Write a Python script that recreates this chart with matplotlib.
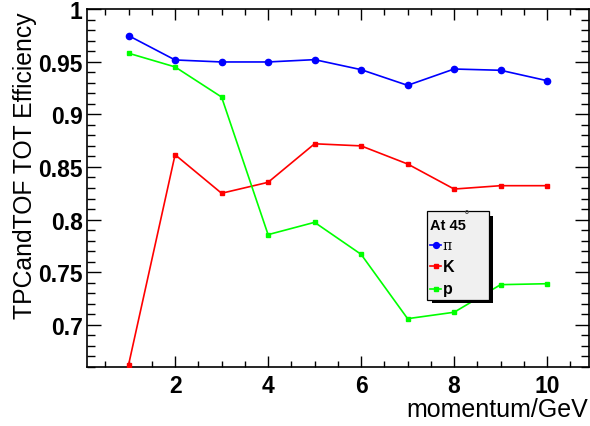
import matplotlib
matplotlib.use("Agg")
import matplotlib.pyplot as plt
from matplotlib.patches import Rectangle
from matplotlib.lines import Line2D
from matplotlib.ticker import MultipleLocator

# Efficiency vs momentum for pions, kaons and protons
momentum = [1, 2, 3, 4, 5, 6, 7, 8, 9, 10]
eff_pi = [0.9747, 0.9516, 0.9497, 0.9497, 0.9519, 0.9424, 0.9275, 0.9430, 0.9418, 0.9319]
eff_k = [0.6620, 0.8616, 0.8250, 0.8354, 0.8720, 0.8700, 0.8528, 0.8290, 0.8322, 0.8322]
eff_p = [0.9580, 0.9450, 0.9164, 0.7857, 0.7974, 0.7670, 0.7059, 0.7120, 0.7382, 0.7391]

series_labels = ["\u03c0", "K", "p"]
legend_title = "At 45"

W, H = 590, 427
fig = plt.figure(figsize=(W / 100, H / 100), dpi=100)
ax = fig.add_axes([86.7 / W, 1 - 368 / H, (589 - 86.7) / W, (368 - 10) / H])

font = "Liberation Sans"
lw = 1.2
ax.plot(momentum, eff_pi, color=(0, 0, 1), lw=lw, marker="o", ms=4.5, zorder=3)
ax.plot(momentum, eff_k, color=(1, 0, 0), lw=lw, marker="s", ms=2.6, zorder=3)
ax.plot(momentum, eff_p, color=(0, 1, 0), lw=lw, marker="s", ms=2.6, zorder=3)

ax.set_xlim(0.1, 10.9)
ax.set_ylim(0.66, 1.0)
ax.xaxis.set_major_locator(MultipleLocator(2))
ax.xaxis.set_minor_locator(MultipleLocator(0.5))
ax.yaxis.set_major_locator(MultipleLocator(0.05))
ax.yaxis.set_minor_locator(MultipleLocator(0.01))
ax.tick_params(which="both", direction="in", top=True, right=True, width=1.0)
ax.tick_params(axis="x", which="major", length=8, pad=5)
ax.tick_params(axis="x", which="minor", length=4.5)
ax.tick_params(axis="y", which="major", length=10, pad=3)
ax.tick_params(axis="y", which="minor", length=6)
for s in ax.spines.values():
    s.set_linewidth(1.2)

ax.set_xticks([2, 4, 6, 8, 10])
ax.set_xticklabels(["2", "4", "6", "8", "10"], fontfamily=font, fontweight="bold", fontsize=16.5)
yt = [0.7, 0.75, 0.8, 0.85, 0.9, 0.95, 1.0]
ax.set_yticks(yt)
ax.set_yticklabels(["0.7", "0.75", "0.8", "0.85", "0.9", "0.95", "1"],
                   fontfamily=font, fontweight="bold", fontsize=16.5)

fig.text(588 / W, 1 - 410 / H, "momentum/GeV", ha="right", va="center",
         fontfamily=font, fontsize=18)
fig.text(25 / W, 1 - 12 / H, "TPCandTOF TOT Efficiency", ha="center", va="top",
         rotation=90, fontfamily=font, fontsize=17.8)

# Legend box with a drop shadow, in pixel coordinates
def px_rect(x0, y0, x1, y1, **kw):
    return Rectangle((x0 / W, 1 - y1 / H), (x1 - x0) / W, (y1 - y0) / H,
                     transform=fig.transFigure, **kw)

fig.add_artist(px_rect(432, 217, 492.5, 303.5, facecolor="black", edgecolor="none", zorder=5))
fig.add_artist(px_rect(427, 212, 489, 300.5, facecolor="#f0f0f0", edgecolor="black",
                       lw=0.9, zorder=6))
fig.text(429.5 / W, 1 - 226 / H, legend_title, ha="left", va="center", fontfamily=font,
         fontweight="bold", fontsize=10.5, zorder=7)
fig.text(464 / W, 1 - 216 / H, "\u00b0", ha="left", va="center", fontfamily="DejaVu Sans",
         fontsize=8.5, color="#444444", zorder=7)

entry_y = [245.5, 267, 290]
entry_colors = [(0, 0, 1), (1, 0, 0), (0, 1, 0)]
entry_markers = ["o", "s", "s"]
entry_ms = [4.2, 2.6, 2.6]
for lab, yy, c, m, ms in zip(series_labels, entry_y, entry_colors, entry_markers, entry_ms):
    fig.add_artist(Line2D([430 / W, 441 / W], [1 - yy / H] * 2, color=c, lw=lw,
                          transform=fig.transFigure, zorder=7))
    fig.add_artist(Line2D([435.5 / W], [1 - yy / H], color=c, marker=m, ms=ms,
                          transform=fig.transFigure, zorder=7))
    if lab == "\u03c0":
        fig.text(442.5 / W, 1 - (yy + 0.5) / H, lab, ha="left", va="center",
                 fontfamily="DejaVu Serif", fontsize=10, zorder=7)
    else:
        fig.text(442.5 / W, 1 - yy / H, lab, ha="left", va="center", fontfamily=font,
                 fontweight="bold", fontsize=11.5, zorder=7)

fig.savefig("out.png", dpi=100)
